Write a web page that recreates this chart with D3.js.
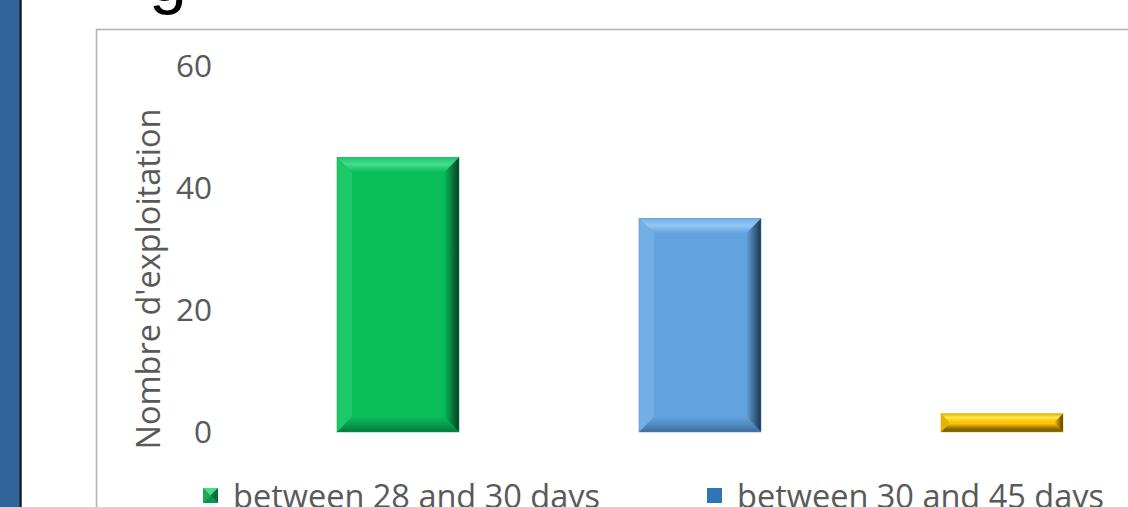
<!DOCTYPE html>
<html>
<head>
<meta charset="utf-8">
<script src="https://cdn.jsdelivr.net/npm/d3@7"></script>
<style>
  body { margin: 0; background: #fff; overflow: hidden; }
  svg { display: block; }
</style>
</head>
<body>
<script>
// data
var categories = ["between 28 and 30 days", "between 30 and 45 days", "more than 45 days"];
var values = [45, 35, 3];
var yTicks = [0, 20, 40, 60];
var yTitle = "Nombre d'exploitation";

var palette = [
  { main: "#09bd58", top: "#45dc8e", left: "#1cc869", right: "#063d22", bottom: "#07964a", marker: "#12b85a" },
  { main: "#62a3df", top: "#93c6f4", left: "#72afe7", right: "#1b3550", bottom: "#4d86bb", marker: "#2e75b6" },
  { main: "#fdc300", top: "#ffe84a", left: "#e8b200", right: "#4a3800", bottom: "#8a6c06", marker: "#ffc000" }
];

var W = 1128, H = 507;
var svg = d3.select("body").append("svg")
  .attr("width", W)
  .attr("height", H);

var defs = svg.append("defs");

// slide edge on the left
svg.append("rect").attr("x", 0).attr("y", 0).attr("width", 20).attr("height", H).attr("fill", "#31659a");
svg.append("rect").attr("x", 19.5).attr("y", 0).attr("width", 2.2).attr("height", H).attr("fill", "#161616");

// tail of the slide title
svg.append("text")
  .attr("x", 149).attr("y", 1)
  .style("font-family", "Liberation Sans, Arial, sans-serif")
  .style("font-size", "68px")
  .attr("fill", "#000")
  .text("g");

// chart frame
svg.append("rect")
  .attr("x", 96.5).attr("y", 29.5)
  .attr("width", 1100).attr("height", 600)
  .attr("fill", "#fff")
  .attr("stroke", "#b4b4b4")
  .attr("stroke-width", 1.6);

var x = d3.scaleBand()
  .domain(categories)
  .range([247, 1153])
  .paddingInner(0.596)
  .paddingOuter(0.298);

var y = d3.scaleLinear()
  .domain([0, 60])
  .range([432, 66]);

// y axis
var yAxis = d3.axisLeft(y).tickValues(yTicks).tickSize(0).tickPadding(18);
var gy = svg.append("g")
  .attr("transform", "translate(230,0)")
  .call(yAxis);
gy.select(".domain").remove();
gy.selectAll("text")
  .style("font-family", "Open Sans, sans-serif")
  .style("font-size", "31.5px")
  .attr("fill", "#595959");

svg.append("text")
  .attr("transform", "translate(160,279) rotate(-90)")
  .attr("text-anchor", "middle")
  .style("font-family", "Open Sans, sans-serif")
  .style("font-size", "32.5px")
  .attr("fill", "#595959")
  .text(yTitle);

// gradients for the bevels
palette.forEach(function(c, i) {
  var gr = defs.append("linearGradient").attr("id", "gr" + i)
    .attr("x1", 0).attr("x2", 1).attr("y1", 0).attr("y2", 0);
  gr.append("stop").attr("offset", "0%").attr("stop-color", c.main);
  gr.append("stop").attr("offset", "100%").attr("stop-color", c.right);

  var gb = defs.append("linearGradient").attr("id", "gb" + i)
    .attr("x1", 0).attr("x2", 0).attr("y1", 0).attr("y2", 1);
  gb.append("stop").attr("offset", "0%").attr("stop-color", c.main);
  gb.append("stop").attr("offset", "60%").attr("stop-color", c.bottom);
  gb.append("stop").attr("offset", "100%").attr("stop-color", d3.color(c.bottom).darker(0.6));

  var gt = defs.append("linearGradient").attr("id", "gt" + i)
    .attr("x1", 0).attr("x2", 0).attr("y1", 0).attr("y2", 1);
  gt.append("stop").attr("offset", "0%").attr("stop-color", c.left);
  gt.append("stop").attr("offset", "45%").attr("stop-color", c.top);
  gt.append("stop").attr("offset", "100%").attr("stop-color", c.main);
});

// bars
var bars = svg.selectAll(".bar")
  .data(values)
  .enter()
  .append("g")
  .attr("class", "bar");

bars.each(function(v, i) {
  var g = d3.select(this);
  var c = palette[i];
  var x0 = x(categories[i]), w = x.bandwidth();
  var y0 = y(v), y1 = y(0), h = y1 - y0;
  var b = Math.min(15, h / 2.2);
  var x1 = x0 + w;

  g.append("rect")
    .attr("x", x0).attr("y", y0).attr("width", w).attr("height", h)
    .attr("fill", c.main);
  // top
  g.append("path")
    .attr("d", "M" + x0 + "," + y0 + "L" + x1 + "," + y0 + "L" + (x1 - b) + "," + (y0 + b) + "L" + (x0 + b) + "," + (y0 + b) + "Z")
    .attr("fill", "url(#gt" + i + ")");
  // left
  g.append("path")
    .attr("d", "M" + x0 + "," + y0 + "L" + (x0 + b) + "," + (y0 + b) + "L" + (x0 + b) + "," + (y1 - b) + "L" + x0 + "," + y1 + "Z")
    .attr("fill", c.left);
  // right
  g.append("path")
    .attr("d", "M" + x1 + "," + y0 + "L" + (x1 - b) + "," + (y0 + b) + "L" + (x1 - b) + "," + (y1 - b) + "L" + x1 + "," + y1 + "Z")
    .attr("fill", "url(#gr" + i + ")");
  // bottom
  g.append("path")
    .attr("d", "M" + x0 + "," + y1 + "L" + (x0 + b) + "," + (y1 - b) + "L" + (x1 - b) + "," + (y1 - b) + "L" + x1 + "," + y1 + "Z")
    .attr("fill", "url(#gb" + i + ")");
  g.append("rect")
    .attr("x", x0).attr("y", y0).attr("width", w).attr("height", h)
    .attr("fill", "none")
    .attr("stroke", d3.color(c.main).darker(0.5))
    .attr("stroke-opacity", 0.5)
    .attr("stroke-width", 1);
});

// legend
var legend = svg.selectAll(".legend")
  .data(categories)
  .enter()
  .append("g")
  .attr("class", "legend")
  .attr("transform", function(d, i) { return "translate(" + (203 + i * 504) + ",488)"; });

legend.each(function(d, i) {
  var g = d3.select(this);
  var c = palette[i];
  if (i === 0) {
    // small bevelled marker
    g.append("rect").attr("width", 15).attr("height", 15).attr("fill", c.main);
    g.append("path").attr("d", "M0,0L15,0L7.5,7.5Z").attr("fill", c.top);
    g.append("path").attr("d", "M15,0L15,15L7.5,7.5Z").attr("fill", "#0a6e36");
    g.append("path").attr("d", "M0,15L15,15L7.5,7.5Z").attr("fill", c.bottom);
    g.append("path").attr("d", "M0,0L0,15L7.5,7.5Z").attr("fill", "#1aa95a");
  } else {
    g.append("rect").attr("width", 15).attr("height", 15).attr("fill", c.marker);
  }
  g.append("text")
    .attr("x", 30).attr("y", 20)
    .style("font-family", "Open Sans, sans-serif")
    .style("font-size", "32.5px")
    .attr("fill", "#595959")
    .text(d);
});
</script>
</body>
</html>
